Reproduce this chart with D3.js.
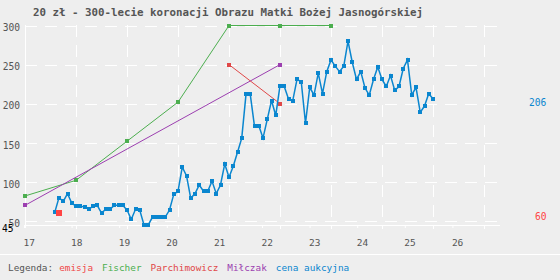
<!DOCTYPE html>
<html>
<head>
<meta charset="utf-8">
<script src="https://cdn.jsdelivr.net/npm/d3@7"></script>
<style>
  body { margin: 0; background: #eee; }
  svg { display: block; }
  text { font-family: "DejaVu Sans Mono", monospace; }
</style>
</head>
<body>
<div id="chart"></div>
<script>
const title = "20 zł - 300-lecie koronacji Obrazu Matki Bożej Jasnogórskiej";

const yearTicks = [2017, 2018, 2019, 2020, 2021, 2022, 2023, 2024, 2025, 2026];
const priceTicks = [50, 100, 150, 200, 250, 300];

// cena aukcyjna - monthly, from Aug 2017 to Jan 2025
const auctionStartYear = 2017, auctionStartMonth = 8;
const auctionPrices = [61, 80, 75, 85, 73, 69, 69, 68, 65, 69,
  70, 60, 65, 65, 70, 70, 70, 64, 52, 65,
  64, 45, 45, 55, 55, 55, 55, 64, 84, 88,
  119, 108, 79, 85, 96, 88, 88, 101, 85, 96,
  123, 106, 120, 138, 156, 212, 212, 171, 172, 156,
  180, 204, 185, 223, 222, 206, 204, 231, 228, 175,
  221, 211, 239, 213, 241, 256, 248, 241, 248, 280,
  253, 231, 241, 220, 211, 231, 247, 231, 222, 236,
  217, 222, 245, 256, 211, 221, 189, 197, 213, 206];

const fischerYears = [2017, 2018, 2019, 2020, 2021, 2022, 2023];
const fischerPrices = [82, 102, 152, 202, 300, 300, 300];

const parchYears = [2021, 2022];
const parchPrices = [250, 200];

const milczakYears = [2017, 2022];
const milczakPrices = [70, 250];

const emisjaYears = [2017 + 8 / 12];
const emisjaPrices = [60];

const legendLabels = ["emisja", "Fischer", "Parchimowicz", "Miłczak", "cena aukcyjna"];
const legendColors = ["#f04848", "#4cae4f", "#e04848", "#9c3fb0", "#0a86cf"];

const width = 560, height = 280;

const svg = d3.select("#chart").append("svg")
  .attr("width", width)
  .attr("height", height);

svg.append("rect").attr("width", width).attr("height", height).attr("fill", "#eee");

// data scale (grid follows it) and the label scale of the axis
const x = d3.scaleLinear().domain([2017, 2027]).range([25, 535]);
const xLabel = d3.scaleLinear().domain([2017, 2027]).range([24, 500]);
const y = d3.scaleLinear().domain([45, 300]).range([224.9, 25.5]);
const plotRight = 500;

// title
svg.append("text")
  .attr("x", 33).attr("y", 16)
  .attr("fill", "#555")
  .style("font-size", "10.8px").style("font-weight", "bold")
  .text(title);

/* grid */
const grid = svg.append("g")
  .attr("stroke", "#fff")
  .attr("stroke-dasharray", "12,8")
  .attr("shape-rendering", "crispEdges");

grid.selectAll("line.h").data(priceTicks).enter().append("line")
  .attr("class", "h")
  .attr("x1", 25).attr("x2", plotRight)
  .attr("y1", d => Math.round(y(d)) + 0.5)
  .attr("y2", d => Math.round(y(d)) + 0.5);

grid.selectAll("line.v").data(yearTicks.slice(1)).enter().append("line")
  .attr("class", "v")
  .attr("x1", d => Math.round(x(d)) + 0.5)
  .attr("x2", d => Math.round(x(d)) + 0.5)
  .attr("y1", 25).attr("y2", 229);

// axis lines
svg.append("line")
  .attr("x1", 25.5).attr("x2", 25.5).attr("y1", 25).attr("y2", 228)
  .attr("stroke", "#fff").attr("shape-rendering", "crispEdges");
svg.append("line")
  .attr("x1", 25).attr("x2", plotRight).attr("y1", 225.5).attr("y2", 225.5)
  .attr("stroke", "#fff").attr("shape-rendering", "crispEdges");

// x axis
const xAxis = svg.append("g")
  .attr("transform", "translate(0,225)")
  .call(d3.axisBottom(xLabel).tickValues(yearTicks).tickSize(3)
    .tickFormat(d => String(d).slice(2)));
xAxis.select(".domain").remove();
xAxis.selectAll("line").attr("stroke", "#fff");
xAxis.selectAll("text")
  .attr("fill", "#555")
  .attr("text-anchor", "start")
  .attr("x", -1).attr("y", 14)
  .style("font-size", "9.5px")
  .style("font-family", "DejaVu Sans Mono, monospace");

// y axis
const yAxis = svg.append("g")
  .attr("transform", "translate(25,0)")
  .call(d3.axisLeft(y).tickValues(priceTicks).tickSize(0).tickPadding(5));
yAxis.select(".domain").remove();
yAxis.selectAll("text")
  .attr("fill", "#555")
  .attr("dy", "0.55em")
  .style("font-size", "9.6px")
  .style("font-family", "DejaVu Sans Mono, monospace");

// min label
svg.append("text")
  .attr("x", 2).attr("y", 232)
  .attr("fill", "#000")
  .style("font-size", "9.6px")
  .text(y.domain()[0]);

/* series */
const line = d3.line().x(d => x(d[0])).y(d => y(d[1]));

function drawSeries(years, values, color, lw, size) {
  const pts = years.map((t, i) => [t, values[i]]);
  svg.append("path")
    .datum(pts)
    .attr("d", line)
    .attr("fill", "none")
    .attr("stroke", color)
    .attr("stroke-width", lw);
  svg.append("g").selectAll("rect").data(pts).enter().append("rect")
    .attr("x", d => x(d[0]) - size / 2)
    .attr("y", d => y(d[1]) - size / 2)
    .attr("width", size).attr("height", size)
    .attr("fill", color)
    .attr("shape-rendering", "crispEdges");
}

drawSeries(fischerYears, fischerPrices, legendColors[1], 1, 4);
drawSeries(milczakYears, milczakPrices, legendColors[3], 1, 4);
drawSeries(parchYears, parchPrices, legendColors[2], 1, 4);

const auctionYears = auctionPrices.map((v, i) => auctionStartYear + (auctionStartMonth - 1 + i) / 12);
drawSeries(auctionYears, auctionPrices, legendColors[4], 1.5, 4);

drawSeries(emisjaYears, emisjaPrices, "#ff4444", 0, 6);

// right side value labels
const lastPrice = auctionPrices[auctionPrices.length - 1];
svg.append("text")
  .attr("x", 529).attr("y", y(lastPrice) + 6.5)
  .attr("fill", legendColors[4])
  .style("font-size", "9.6px")
  .text(lastPrice);
svg.append("text")
  .attr("x", 535).attr("y", y(emisjaPrices[0]) + 6.5)
  .attr("fill", "#ff4444")
  .style("font-size", "9.6px")
  .text(emisjaPrices[0]);

/* legend */
svg.append("line")
  .attr("x1", 0).attr("x2", width).attr("y1", 254.5).attr("y2", 254.5)
  .attr("stroke", "#fff");

const legend = svg.append("g").style("font-size", "9.4px");
let lx = 8;
const head = legend.append("text")
  .attr("x", lx).attr("y", 271)
  .attr("fill", "#555")
  .text("Legenda:");
lx += head.node().getComputedTextLength() + 6;
legendLabels.forEach((name, i) => {
  const t = legend.append("text")
    .attr("x", lx).attr("y", 271)
    .attr("fill", legendColors[i])
    .text(name);
  lx += t.node().getComputedTextLength() + 9;
});
</script>
</body>
</html>
